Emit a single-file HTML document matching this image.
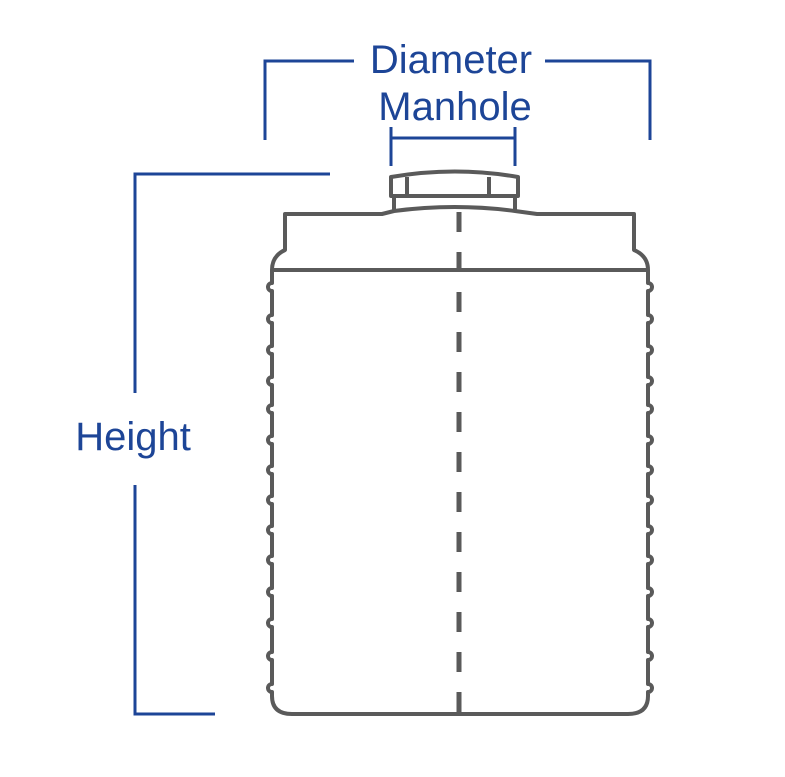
<!DOCTYPE html>
<html><head><style>html,body{margin:0;padding:0;background:#fff}</style></head>
<body>
<svg width="785" height="772" viewBox="0 0 785 772" xmlns="http://www.w3.org/2000/svg">
<g fill="none" stroke="#1d4597" stroke-width="3">
<path d="M265 140 V61 H354"/>
<path d="M545 61 H650 V140"/>
<path d="M391 127 V166 M391 138 H515 M515 127 V166"/>
<path d="M330 174 H135 V393"/>
<path d="M135 485 V714 H215"/>
</g>
<g fill="#1d4597" font-family="Liberation Sans, Arial, sans-serif" font-size="40" text-anchor="middle">
<text x="451" y="73">Diameter</text>
<text x="455" y="120">Manhole</text>
<text x="133" y="450">Height</text>
</g>
<g fill="none" stroke="#5a5a5a" stroke-width="4" stroke-linejoin="round">
<path d="M391 196 V177 Q455 166 518 177 V196 Z"/>
<path d="M407 177 V196 M489 177 V196"/>
<path d="M394 196 V210 M515 196 V210"/>
<path d="M272 270 Q272 256 285 250 V214 H382 L394 211 Q455 203 515 211 L537 214 H634 V250 Q648 256 648 270"/>
<path d="M272 270 H648"/>
<path d="M272 270 V283 A4 4 0 0 0 272 291 V315 A4 4 0 0 0 272 323 V346 A4 4 0 0 0 272 354 V377 A4 4 0 0 0 272 385 V405 A4 4 0 0 0 272 413 V436 A4 4 0 0 0 272 444 V466 A4 4 0 0 0 272 474 V496 A4 4 0 0 0 272 504 V526 A4 4 0 0 0 272 534 V556 A4 4 0 0 0 272 564 V588 A4 4 0 0 0 272 596 V619 A4 4 0 0 0 272 627 V652 A4 4 0 0 0 272 660 V684 A4 4 0 0 0 272 692 V696 Q272 714 292 714 H628 Q648 714 648 696"/>
<path d="M648 270 V283 A4 4 0 0 1 648 291 V315 A4 4 0 0 1 648 323 V346 A4 4 0 0 1 648 354 V377 A4 4 0 0 1 648 385 V405 A4 4 0 0 1 648 413 V436 A4 4 0 0 1 648 444 V466 A4 4 0 0 1 648 474 V496 A4 4 0 0 1 648 504 V526 A4 4 0 0 1 648 534 V556 A4 4 0 0 1 648 564 V588 A4 4 0 0 1 648 596 V619 A4 4 0 0 1 648 627 V652 A4 4 0 0 1 648 660 V684 A4 4 0 0 1 648 692 V696"/>
</g>
<path d="M459 212 V714" stroke="#5a5a5a" stroke-width="5" stroke-dasharray="20 20"/>
</svg>
</body></html>
